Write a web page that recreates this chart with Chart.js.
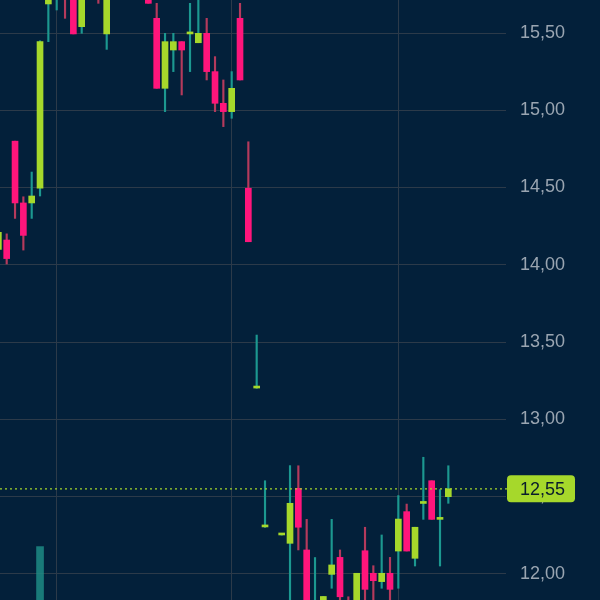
<!DOCTYPE html>
<html>
<head>
<meta charset="utf-8">
<script src="https://cdn.jsdelivr.net/npm/chart.js@4.4.1/dist/chart.umd.min.js"></script>
<style>
  html, body { margin: 0; padding: 0; background: #03203a; }
  #wrap { width: 600px; height: 600px; }
</style>
</head>
<body>
<div id="wrap"><canvas id="chart" width="600" height="600"></canvas></div>
<script>
// candle slots (one per trading day), 32 has no candle
const candleIdx = [-1, 0, 1, 2, 3, 4, 5, 6, 7, 8, 9, 10, 11, 12, 13, 14, 15, 16, 17, 18, 19,
  20, 21, 22, 23, 24, 25, 26, 27, 28, 29, 30, 31, 33, 34, 35, 36, 37, 38, 39,
  40, 41, 42, 43, 44, 45, 46, 47, 48, 49, 50, 51, 52, 53];

const opens = [14.10, 14.16, 14.80, 14.40, 14.40, 14.495, 15.688, 15.74, 15.86, 15.78, 15.541, 15.78, 15.85, 15.494, 15.80, 15.88, 15.82, 15.86, 15.76, 15.595, 15.142,
  15.39, 15.444, 15.494, 15.437, 15.498, 15.25, 15.045, 14.991, 15.595, 14.495, 13.202, 12.303, 12.251, 12.197, 12.553, 12.154, 11.76, 11.80, 11.996,
  12.106, 11.82, 11.82, 12.149, 12.003, 11.949, 12.003, 12.147, 12.402, 12.10, 12.455, 12.602, 12.352, 12.499];
const highs = [14.25, 14.20, 14.80, 14.44, 14.60, 15.45, 15.76, 15.85, 15.90, 15.80, 15.80, 15.90, 15.88, 15.82, 15.92, 15.95, 15.90, 15.92, 15.80, 15.692, 15.498,
  15.498, 15.444, 15.692, 15.75, 15.595, 15.347, 15.196, 15.25, 15.692, 14.796, 13.545, 12.602, 12.255, 12.70, 12.699, 12.352, 12.105, 11.853, 12.352,
  12.154, 11.851, 12.003, 12.301, 12.052, 12.251, 12.106, 12.506, 12.451, 12.301, 12.754, 12.602, 12.545, 12.699];
const lows = [14.05, 14.005, 14.30, 14.095, 14.30, 14.445, 15.444, 15.649, 15.595, 15.494, 15.498, 15.74, 15.692, 15.394, 15.74, 15.78, 15.76, 15.75, 15.692, 15.142, 14.991,
  15.25, 15.099, 15.25, 15.437, 15.196, 14.991, 14.894, 14.948, 15.196, 14.149, 13.20, 12.30, 12.25, 11.78, 12.154, 11.78, 11.74, 11.78, 11.906,
  11.80, 11.74, 11.80, 11.82, 11.82, 11.906, 11.80, 11.906, 12.147, 12.05, 12.352, 12.352, 12.05, 12.456];
const closes = [14.21, 14.04, 14.40, 14.19, 14.445, 15.444, 15.73, 15.80, 15.75, 15.494, 15.76, 15.85, 15.76, 15.78, 15.88, 15.82, 15.86, 15.78, 15.692, 15.142, 15.444,
  15.444, 15.39, 15.494, 15.498, 15.25, 15.045, 14.991, 15.142, 15.196, 14.149, 13.202, 12.303, 12.251, 12.456, 12.301, 11.80, 11.80, 11.853, 12.057,
  11.851, 11.76, 12.003, 11.899, 11.955, 12.003, 11.899, 12.354, 12.147, 12.301, 12.455, 12.352, 12.352, 12.55];

// only one volume bar reaches into the view
const volIdx = [4];
const volumes = [8.9];

const tickValues = [12.0, 12.5, 13.0, 13.5, 14.0, 14.5, 15.0, 15.5];
const monthStarts = [6, 27, 47];
const lastPrice = 12.55;

const UP = '#a6d82b';
const DOWN = '#ff157b';
const UP_WICK = '#1c9890';
const DOWN_WICK = '#b53a5c';

const fmt = v => v.toFixed(2).replace('.', ',');

const bodies = [], wicks = [], bodyColors = [], wickColors = [];
candleIdx.forEach((k, i) => {
    const up = closes[i] >= opens[i];
    bodies.push({ x: k, y: [Math.min(opens[i], closes[i]), Math.max(opens[i], closes[i])] });
    wicks.push({ x: k, y: [lows[i], highs[i]] });
    bodyColors.push(up ? UP : DOWN);
    wickColors.push(up ? UP_WICK : DOWN_WICK);
});
const volData = volIdx.map((k, i) => ({ x: k, y: volumes[i] }));

// last price line + tag
const priceTag = {
    id: 'priceTag',
    afterDraw(chart) {
        const ctx = chart.ctx;
        const y = chart.scales.y.getPixelForValue(lastPrice);
        const area = chart.chartArea;
        ctx.save();
        ctx.strokeStyle = UP;
        ctx.lineWidth = 1.3;
        ctx.setLineDash([2, 3]);
        ctx.beginPath();
        ctx.moveTo(area.left, y);
        ctx.lineTo(507, y);
        ctx.stroke();
        ctx.setLineDash([]);
        ctx.fillStyle = UP;
        ctx.beginPath();
        ctx.roundRect(507, y - 13.5, 68, 27, 4);
        ctx.fill();
        ctx.fillStyle = '#0a1c2c';
        ctx.font = '500 18px "Liberation Sans", Arial, sans-serif';
        ctx.textBaseline = 'middle';
        ctx.textAlign = 'left';
        ctx.fillText(fmt(lastPrice), 520, y + 1);
        ctx.restore();
    }
};

new Chart(document.getElementById('chart'), {
    type: 'bar',
    data: {
        datasets: [
            {
                data: bodies,
                backgroundColor: bodyColors,
                barThickness: 6,
                minBarLength: 2,
                grouped: false,
                order: 0
            },
            {
                data: wicks,
                backgroundColor: wickColors,
                barThickness: 1.5,
                grouped: false,
                order: 1
            },
            {
                data: volData,
                yAxisID: 'vol',
                backgroundColor: 'rgba(31, 145, 137, 0.8)',
                barThickness: 7,
                grouped: false,
                order: 2
            }
        ]
    },
    options: {
        responsive: false,
        animation: false,
        devicePixelRatio: 1,
        layout: { padding: 0 },
        plugins: { legend: { display: false }, tooltip: { enabled: false } },
        scales: {
            x: {
                type: 'linear',
                offset: false,
                min: -0.804,
                max: 59.92,
                afterBuildTicks: s => { s.ticks = monthStarts.map(v => ({ value: v })); },
                afterFit: s => { s.height = 0; },
                ticks: { display: false },
                grid: { color: '#2c3a49', lineWidth: 1, drawTicks: false, offset: false },
                border: { display: false }
            },
            y: {
                position: 'right',
                min: 11.8301,
                max: 15.7136,
                afterBuildTicks: s => { s.ticks = tickValues.map(v => ({ value: v })); },
                afterFit: s => { s.width = 94; s.paddingTop = 0; s.paddingBottom = 0; },
                ticks: {
                    padding: 14,
                    color: '#9aa5b1',
                    font: { family: '"Liberation Sans", Arial, sans-serif', size: 18 },
                    callback: v => fmt(v)
                },
                grid: { color: '#2c3a49', lineWidth: 1, drawTicks: false },
                border: { display: false }
            },
            vol: {
                display: false,
                min: 0,
                max: 100
            }
        }
    },
    plugins: [priceTag]
});
</script>
</body>
</html>
